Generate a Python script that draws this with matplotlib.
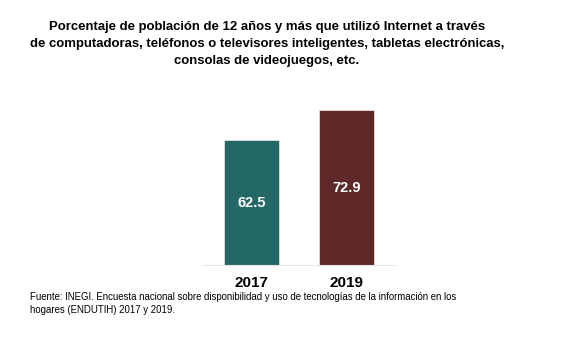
import matplotlib.pyplot as plt

plt.rcParams["font.family"] = ["Liberation Sans", "DejaVu Sans"]

years = ["2017", "2019"]
values = [62.5, 72.9]
colors = ["#246866", "#5e2828"]

title = ("Porcentaje de población de 12 años y más que utilizó Internet a través\n"
         "de computadoras, teléfonos o televisores inteligentes, tabletas electrónicas,\n"
         "consolas de videojuegos, etc.")
source = ("Fuente: INEGI. Encuesta nacional sobre disponibilidad y uso de tecnologías de la información en los\n"
          "hogares (ENDUTIH) 2017 y 2019.")

fig = plt.figure(figsize=(5.8, 3.43), dpi=100)
ax = fig.add_axes([203 / 580, 78 / 343, 192 / 580, 165 / 343])

x = list(range(len(years)))
bars = ax.bar(x, values, width=0.58, color=colors, edgecolor="#ffffff", linewidth=0.4, zorder=2)
ax.set_xlim(-0.51, 1.51)
ax.set_ylim(19.2, 76.4)

for rect, v in zip(bars, values):
    ymid = (ax.get_ylim()[0] + v) / 2
    ax.text(rect.get_x() + rect.get_width() / 2, ymid, f"{v:.1f}", ha="center", va="center",
            color="white", fontsize=10.5, fontweight="bold")

ax.set_xticks(x)
ax.set_xticklabels(years, fontsize=11, fontweight="bold")
ax.tick_params(axis="x", length=0, pad=8)
ax.set_yticks([])
for side in ["top", "right", "left"]:
    ax.spines[side].set_visible(False)
ax.spines["bottom"].set_color("#e6e6e6")
ax.spines["bottom"].set_linewidth(0.8)

fig.text(267 / 580, 1 - 21 / 343, title, ha="center", va="top", fontsize=9.45, fontweight="bold",
         linespacing=1.55)
fig.text(30 / 580, 1 - 292 / 343, source, ha="left", va="top", fontsize=6.95, linespacing=1.4)

fig.savefig("out.png", dpi=100, facecolor="white")
